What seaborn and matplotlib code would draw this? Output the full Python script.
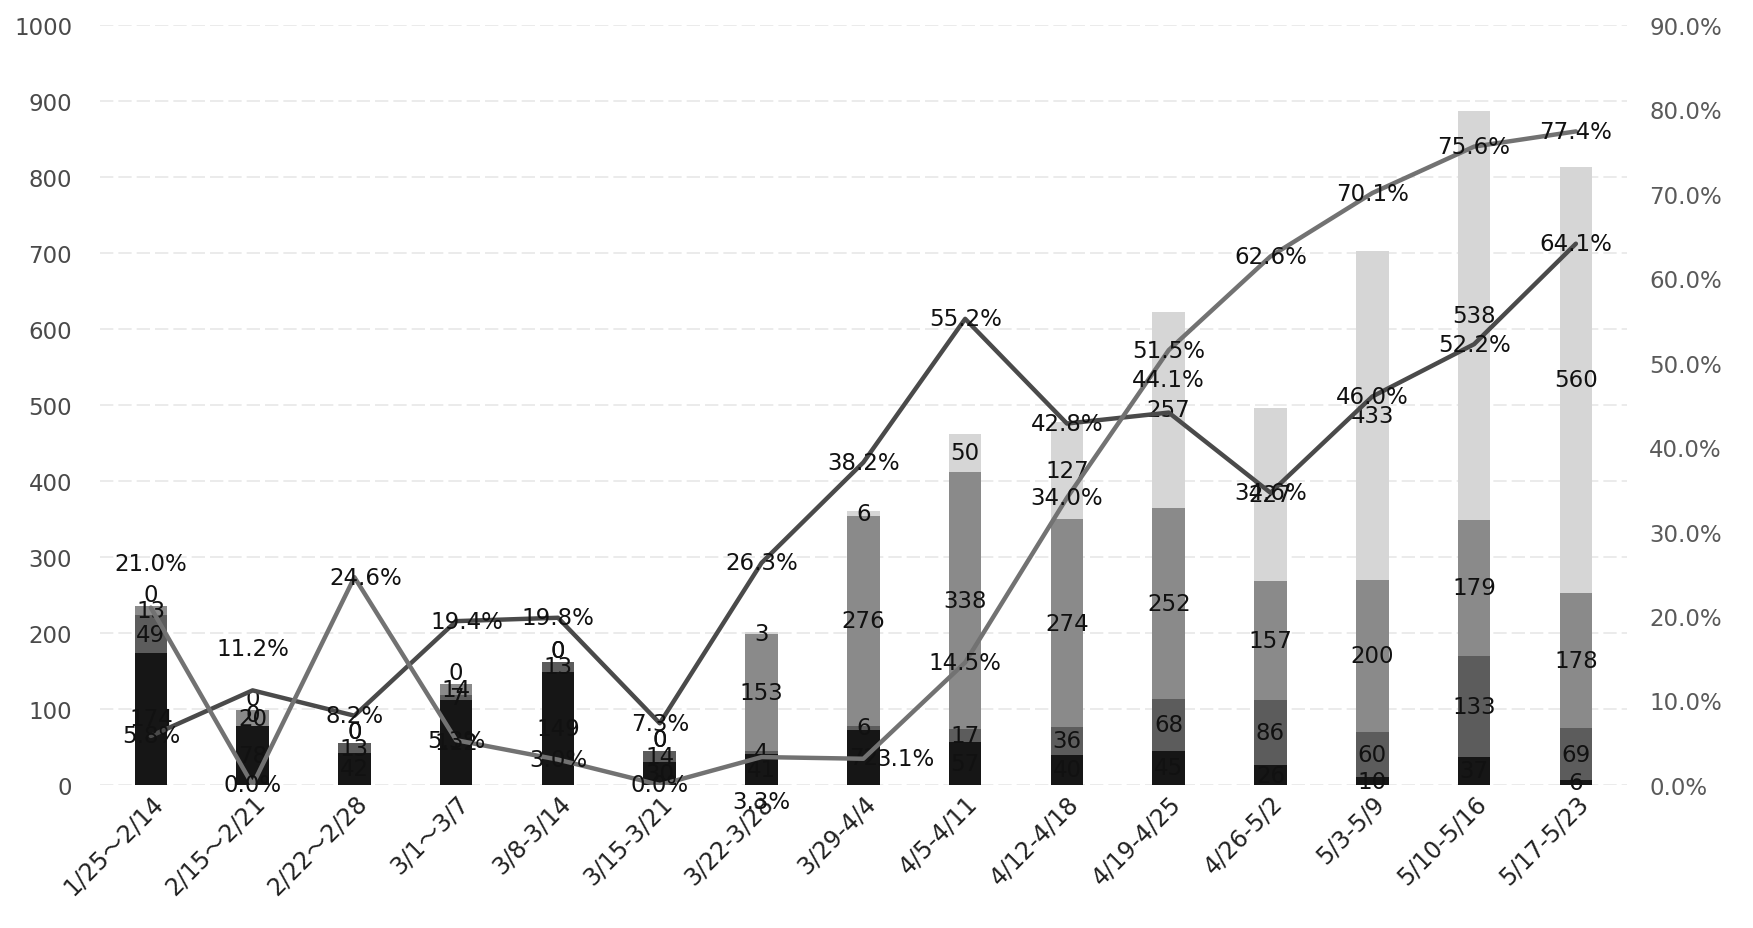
import numpy as np
import pandas as pd
import matplotlib
matplotlib.use("Agg")
import matplotlib.pyplot as plt
import seaborn as sns

# ---------------- data ----------------
weeks = ["1/25～2/14", "2/15～2/21", "2/22～2/28", "3/1～3/7", "3/8-3/14",
         "3/15-3/21", "3/22-3/28", "3/29-4/4", "4/5-4/11", "4/12-4/18",
         "4/19-4/25", "4/26-5/2", "5/3-5/9", "5/10-5/16", "5/17-5/23"]

seg_black = [174, 78, 42, 112, 149, 30, 41, 72, 57, 40, 45, 26, 10, 37, 6]
seg_dark = [49, 0, 13, 7, 13, 14, 4, 6, 17, 36, 68, 86, 60, 133, 69]
seg_medium = [13, 20, 0, 14, 0, 0, 153, 276, 338, 274, 252, 157, 200, 179, 178]
seg_light = [0, 0, 0, 0, 0, 0, 3, 6, 50, 127, 257, 227, 433, 538, 560]

rate_a = [5.8, 11.2, 8.2, 19.4, 19.8, 7.3, 26.3, 38.2, 55.2, 42.8, 44.1, 34.6, 46.0, 52.2, 64.1]
rate_b = [21.0, 0.0, 24.6, 5.3, 3.0, 0.0, 3.3, 3.1, 14.5, 34.0, 51.5, 62.6, 70.1, 75.6, 77.4]

left_ticks = list(range(0, 1001, 100))
right_ticks = [0.0, 10.0, 20.0, 30.0, 40.0, 50.0, 60.0, 70.0, 80.0, 90.0]

# label offsets (points) for line labels: (dx, dy)
off_a = [(0, 0), (0, 30), (0, 0), (8, 0), (0, 0), (0, 0), (0, 0), (0, 0),
         (0, 0), (0, 0), (0, 24), (0, 0), (0, 0), (0, 0), (0, 0)]
off_b = [(0, 32), (0, 0), (8, 0), (0, 0), (0, 0), (0, 0), (0, -32), (30, 0),
         (0, 0), (0, 0), (0, 0), (0, 0), (0, 0), (0, 0), (0, 0)]

# ---------------- style ----------------
sns.set_theme(style="white")
plt.rcParams['font.family'] = ['DejaVu Sans', 'Noto Sans CJK SC']

fig = plt.figure(figsize=(17.53, 9.29), dpi=100)
ax = fig.add_axes([0.057, 0.154, 0.871, 0.818])

layers = [seg_black, seg_dark, seg_medium, seg_light]
colors = ['#161616', '#5c5c5c', '#8a8a8a', '#d6d6d6']
cum = np.cumsum(np.array(layers), axis=0)

for i in range(3, -1, -1):
    df = pd.DataFrame({'week': weeks, 'value': cum[i]})
    sns.barplot(data=df, x='week', y='value', order=weeks, color=colors[i],
                width=0.32, errorbar=None, ax=ax, saturation=1, linewidth=0, zorder=2)

LBL = 16.5
ax.set_xlim(-0.5, len(weeks) - 0.5)
ax.set_ylim(0, 1000)
ax.set_yticks(left_ticks)
ax.set_yticklabels([str(t) for t in left_ticks])
ax.tick_params(axis='y', length=0, labelsize=16.5, labelcolor='#4a4a4a', pad=20)
ax.tick_params(axis='x', length=0, labelsize=17, labelcolor='#222222', pad=4)
ax.set_xticks(range(len(weeks)))
ax.set_xticklabels(weeks, rotation=45, ha='right', rotation_mode='anchor')
ax.set_xlabel('')
ax.set_ylabel('')
for s in ax.spines.values():
    s.set_visible(False)
ax.yaxis.grid(True, color='#e8e8e8', lw=1.2, linestyle=(0, (8, 3)), zorder=0)
ax.set_axisbelow(True)

# bar segment labels
for i, layer in enumerate(layers):
    bottoms = cum[i] - np.array(layer)
    for x, (b, v) in enumerate(zip(bottoms, layer)):
        if v == 0:
            ax.text(x, b, str(v), ha='center', va='bottom', fontsize=LBL, color='#111111', zorder=3)
        else:
            ax.text(x, b + v / 2, str(v), ha='center', va='center', fontsize=LBL,
                    color='#111111', zorder=3)

# lines on secondary axis
ax2 = ax.twinx()
xs = np.arange(len(weeks))
sns.lineplot(x=xs, y=np.array(rate_a) / 100, ax=ax2, color='#4a4a4a', lw=3.2, zorder=4)
sns.lineplot(x=xs, y=np.array(rate_b) / 100, ax=ax2, color='#727272', lw=3.2, zorder=4)
ax2.set_ylim(0, 0.9)
ax2.set_yticks([t / 100 for t in right_ticks])
ax2.set_yticklabels([f"{t:.1f}%" for t in right_ticks])
ax2.tick_params(axis='y', length=0, labelsize=16.5, labelcolor='#5a5a5a', pad=16)
ax2.set_ylabel('')
for s in ax2.spines.values():
    s.set_visible(False)
ax2.grid(False)

for x, v, (dx, dy) in zip(xs, rate_a, off_a):
    ax2.annotate(f"{v:.1f}%", (x, v / 100), xytext=(dx, dy), textcoords='offset points',
                 ha='center', va='center', fontsize=LBL, color='#111111', zorder=5)
for x, v, (dx, dy) in zip(xs, rate_b, off_b):
    ax2.annotate(f"{v:.1f}%", (x, v / 100), xytext=(dx, dy), textcoords='offset points',
                 ha='center', va='center', fontsize=LBL, color='#111111', zorder=5)

fig.savefig('out.png', dpi=100, facecolor='white')
